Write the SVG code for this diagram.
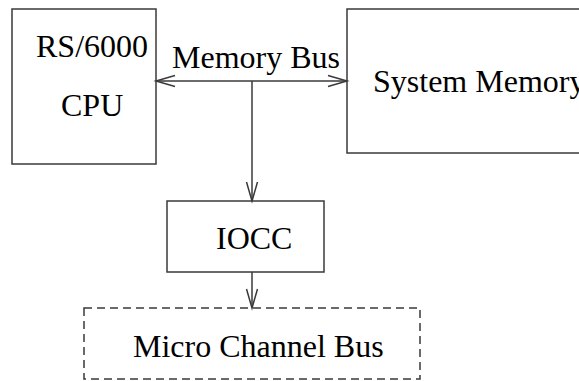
<svg xmlns="http://www.w3.org/2000/svg" width="579" height="381" viewBox="0 0 579 381">
<style>
  .box { fill: none; stroke: #3a3a3a; stroke-width: 1.5; }
  .dash { fill: none; stroke: #3a3a3a; stroke-width: 1.5; stroke-dasharray: 8 5; }
  .conn { fill: none; stroke: #3a3a3a; stroke-width: 1.5; }
  text { font-family: "Liberation Serif", "Times New Roman", serif; font-size: 32px; fill: #000; }
</style>
<defs>
  <marker id="v" markerUnits="userSpaceOnUse" markerWidth="22" markerHeight="14" refX="19" refY="6" orient="auto-start-reverse" overflow="visible">
    <path d="M0,0.5 L19,6 L0,11.5" fill="none" stroke="#3a3a3a" stroke-width="1.5"/>
  </marker>
</defs>
<g id="cpu">
  <rect class="box" x="12" y="9" width="144" height="155"/>
  <text x="36" y="57">RS/6000</text>
  <text x="61" y="116">CPU</text>
</g>
<g id="memory">
  <rect class="box" x="347" y="9" width="250" height="144"/>
  <text x="373" y="92">System Memory</text>
</g>
<g id="iocc">
  <rect class="box" x="167" y="201" width="157" height="71"/>
  <text x="216" y="249">IOCC</text>
</g>
<g id="mcbus">
  <rect class="dash" x="84" y="308" width="336" height="71"/>
  <text x="133" y="357">Micro Channel Bus</text>
</g>
<g id="connectors">
  <line class="conn" x1="156" y1="81" x2="347" y2="81" marker-start="url(#v)" marker-end="url(#v)"/>
  <line class="conn" x1="252" y1="81" x2="252" y2="201" marker-end="url(#v)"/>
  <line class="conn" x1="252" y1="272" x2="252" y2="308" marker-end="url(#v)"/>
  <text x="172" y="68">Memory Bus</text>
</g>
</svg>
